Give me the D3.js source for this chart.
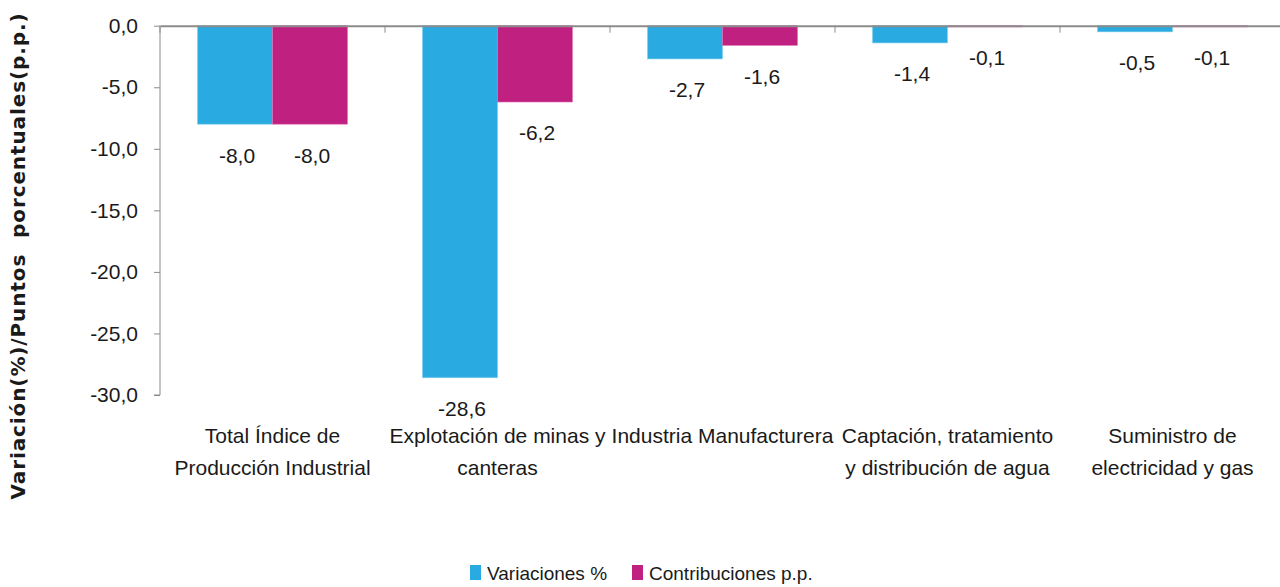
<!DOCTYPE html>
<html>
<head>
<meta charset="utf-8">
<script src="https://cdn.jsdelivr.net/npm/d3@7"></script>
<style>
  body { margin: 0; background: #fff; }
  text { font-family: "Liberation Sans", Arial, sans-serif; fill: #1a1a1a; }
</style>
</head>
<body>
<div id="chart"></div>
<script>
// data
var categorias = [
  ["Total Índice de", "Producción Industrial"],
  ["Explotación de minas y", "canteras"],
  ["Industria Manufacturera"],
  ["Captación, tratamiento", "y distribución de agua"],
  ["Suministro de", "electricidad y gas"]
];
var variaciones = [-8.0, -28.6, -2.7, -1.4, -0.5];
var contribuciones = [-8.0, -6.2, -1.6, -0.1, -0.1];
var series = ["Variaciones %", "Contribuciones p.p."];
var colores = ["#29abe2", "#c0207f"];
var ticksY = [0, -5, -10, -15, -20, -25, -30];

var W = 1280, H = 587;
var svg = d3.select("#chart").append("svg").attr("width", W).attr("height", H);

var x = d3.scaleBand().domain(d3.range(categorias.length)).range([160, 1285]).padding(0);
var x1 = d3.scaleBand().domain([0, 1]).range([0, x.bandwidth()]).paddingOuter(0.5).paddingInner(0);
var y = d3.scaleLinear().domain([-30, 0]).range([395, 25.7]);

var fmt = function(v){ return d3.format(".1f")(v).replace(".", ",").replace("−", "-"); };

// bars
var grupos = svg.selectAll(".grupo").data(categorias).enter().append("g")
  .attr("class", "grupo")
  .attr("transform", function(d, i){ return "translate(" + x(i) + ",0)"; });

[variaciones, contribuciones].forEach(function(vals, s){
  grupos.append("rect")
    .attr("x", x1(s))
    .attr("y", y(0))
    .attr("width", x1.bandwidth())
    .attr("height", function(d, i){ return y(vals[i]) - y(0); })
    .attr("fill", colores[s])
    .attr("stroke", s == 0 ? "#7fd0f0" : "#e070b8")
    .attr("stroke-width", 0.6);
  grupos.append("text")
    .attr("x", x1(s) + x1.bandwidth()/2 + 2)
    .attr("y", function(d, i){ return y(vals[i]) + 31; })
    .attr("dy", "0.35em")
    .attr("text-anchor", "middle")
    .attr("font-size", 21)
    .text(function(d, i){ return fmt(vals[i]); });
});

// y axis
var yAxis = svg.append("g").attr("transform", "translate(160,0)")
  .call(d3.axisLeft(y).tickValues(ticksY).tickSize(6).tickFormat(fmt));
yAxis.select(".domain").attr("stroke", "#8c8c8c").attr("d", "M-6," + y(-30) + "H0V" + y(0));
yAxis.selectAll(".tick line").attr("stroke", "#8c8c8c");
yAxis.selectAll(".tick text").attr("font-size", 21).attr("x", -22)
  .style("font-family", "'Liberation Sans', sans-serif").attr("fill", "#1a1a1a");

// zero line + category separators
var xAxis = svg.append("g").attr("transform", "translate(0," + y(0) + ")")
  .call(d3.axisBottom(x).tickValues([]).tickSizeOuter(0));
xAxis.select(".domain").attr("stroke", "#8c8c8c").attr("stroke-width", 2);
xAxis.selectAll(".sep").data(d3.range(categorias.length)).enter().append("line")
  .attr("class", "sep")
  .attr("x1", function(d){ return x(d); }).attr("x2", function(d){ return x(d); })
  .attr("y1", 0).attr("y2", 7)
  .attr("stroke", "#8c8c8c");

// category labels
var etiquetas = svg.selectAll(".cat").data(categorias).enter().append("text")
  .attr("class", "cat")
  .attr("text-anchor", "middle")
  .attr("font-size", 21)
  .attr("transform", function(d, i){ return "translate(" + (x(i) + x.bandwidth()/2) + ",443)"; });
etiquetas.selectAll("tspan").data(function(d){ return d; }).enter().append("tspan")
  .attr("x", 0)
  .attr("dy", function(d, i){ return i == 0 ? 0 : 32; })
  .text(function(d){ return d; });

// y title
svg.append("text")
  .attr("transform", "translate(25,256) rotate(-90)")
  .attr("text-anchor", "middle")
  .attr("font-size", 20)
  .attr("font-weight", "bold")
  .attr("letter-spacing", 0.9)
  .style("font-family", "'DejaVu Sans', sans-serif")
  .style("white-space", "pre")
  .text("Variación(%)/Puntos  porcentuales(p.p.)");

// legend
var leyendaX = [470, 632];
var leyenda = svg.selectAll(".ley").data(series).enter().append("g")
  .attr("class", "ley")
  .attr("transform", function(d, i){ return "translate(" + leyendaX[i] + ",565)"; });
leyenda.append("rect").attr("width", 11).attr("height", 15)
  .attr("fill", function(d, i){ return colores[i]; });
leyenda.append("text").attr("x", 17).attr("y", 8).attr("dy", "0.35em")
  .attr("font-size", 19)
  .text(function(d){ return d; });
</script>
</body>
</html>
